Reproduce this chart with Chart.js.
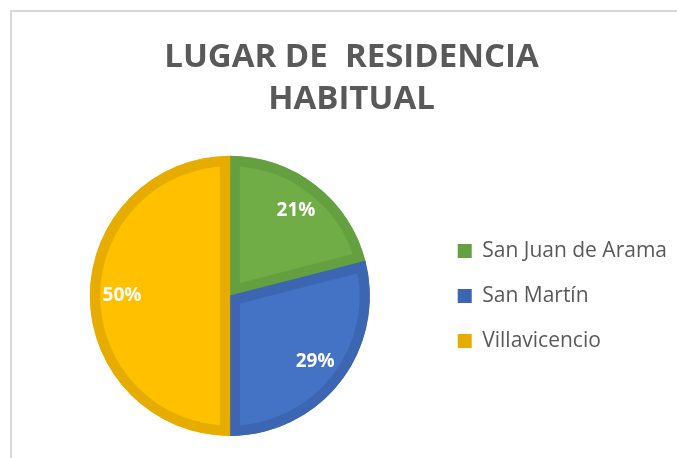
<!DOCTYPE html>
<html>
<head>
<meta charset="utf-8">
<script src="https://cdn.jsdelivr.net/npm/chart.js@4.4.1/dist/chart.umd.min.js"></script>
<style>
  html, body { margin: 0; padding: 0; background: #ffffff; }
  #wrap { width: 677px; height: 458px; position: relative; }
</style>
</head>
<body>
<div id="wrap"><canvas id="c" width="677" height="458"></canvas></div>
<script>
const titleLines = ["LUGAR DE  RESIDENCIA", "HABITUAL"];
const categories = ["San Juan de Arama", "San Martín", "Villavicencio"];
const percentages = [21, 29, 50];
const fillColors = ["#70AD47", "#4472C4", "#FFC000"];
const edgeColors = ["#64A03F", "#3C66B2", "#E6AC00"];

const frameBorder = {
  id: 'frameBorder',
  afterDraw(chart) {
    const ctx = chart.ctx;
    ctx.save();
    ctx.fillStyle = '#D9D9D9';
    ctx.fillRect(10, 10, 2, chart.height);
    ctx.fillRect(10, 10, chart.width, 2);
    ctx.restore();
  }
};

const sliceLabels = {
  id: 'sliceLabels',
  afterDatasetsDraw(chart) {
    const ctx = chart.ctx;
    const meta = chart.getDatasetMeta(0);
    ctx.save();
    ctx.fillStyle = '#FFFFFF';
    ctx.font = 'bold 19px "Open Sans"';
    ctx.textAlign = 'center';
    ctx.textBaseline = 'middle';
    meta.data.forEach((arc, i) => {
      const p = arc.getProps(['x', 'y', 'startAngle', 'endAngle', 'outerRadius'], true);
      const mid = (p.startAngle + p.endAngle) / 2;
      const r = p.outerRadius * 0.77;
      ctx.fillText(percentages[i] + '%', p.x + Math.cos(mid) * r, p.y + Math.sin(mid) * r);
    });
    ctx.restore();
  }
};

new Chart(document.getElementById('c'), {
  type: 'pie',
  data: {
    labels: categories,
    datasets: [{
      data: percentages,
      backgroundColor: fillColors,
      borderColor: edgeColors,
      borderWidth: 10,
      borderAlign: 'inner',
      hoverOffset: 0
    }]
  },
  options: {
    responsive: false,
    animation: false,
    layout: { padding: { left: 26, right: 0, top: 0, bottom: 22 } },
    plugins: {
      title: {
        display: true,
        text: titleLines,
        color: '#595959',
        font: { family: '"Open Sans"', size: 33, weight: 'bold', lineHeight: 1.27 },
        padding: { top: 37, bottom: 35 }
      },
      legend: {
        position: 'right',
        fullSize: false,
        labels: {
          boxWidth: 14,
          boxHeight: 14,
          padding: 24,
          color: '#595959',
          font: { family: '"Open Sans"', size: 21 },
          generateLabels(chart) {
            return categories.map((c, i) => ({
              text: c,
              fillStyle: edgeColors[i],
              strokeStyle: edgeColors[i],
              lineWidth: 0,
              hidden: false,
              index: i,
              fontColor: '#595959'
            }));
          }
        }
      },
      tooltip: { enabled: false }
    }
  },
  plugins: [frameBorder, sliceLabels]
});
</script>
</body>
</html>
